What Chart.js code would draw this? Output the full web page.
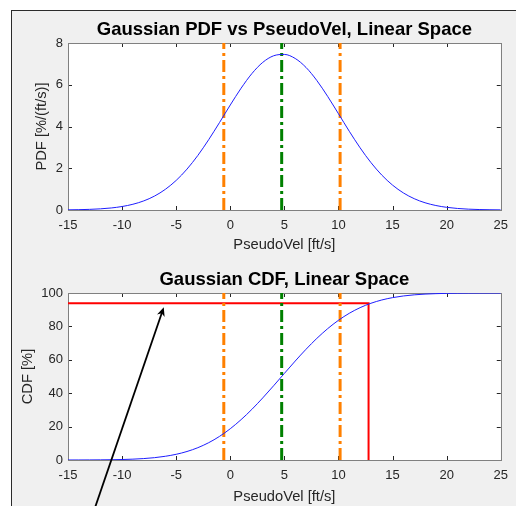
<!DOCTYPE html>
<html>
<head>
<meta charset="utf-8">
<title>Gaussian PDF / CDF</title>
<script src="https://cdn.jsdelivr.net/npm/chart.js@4.4.1/dist/chart.umd.min.js"></script>
<style>
  html, body { margin: 0; padding: 0; background: #fff; overflow: hidden; width: 516px; height: 506px; }
  #frame { position: absolute; left: 11px; top: 10px; width: 505px; height: 496px; background: #f0f0f0;
           border-left: 1px solid #2b2b2b; border-top: 1px solid #2b2b2b; }
  canvas { position: absolute; left: 12px; }
  #pdf-chart { top: 11px; }
  #cdf-chart { top: 260px; }
</style>
</head>
<body>
<div id="frame"></div>
<canvas id="pdf-chart" width="504" height="244"></canvas>
<canvas id="cdf-chart" width="504" height="246"></canvas>
<script>
'use strict';

// pseudo velocity samples [ft/s]
const pseudoVel = [-15, -14, -13, -12, -11, -10, -9, -8, -7, -6, -5, -4, -3, -2, -1, 0, 1, 2, 3, 4, 5,
  6, 7, 8, 9, 10, 11, 12, 13, 14, 15, 16, 17, 18, 19, 20, 21, 22, 23, 24, 25];

// PDF [%/(ft/s)]
const pdfPct = [0.008, 0.016, 0.030, 0.056, 0.098, 0.167, 0.275, 0.436, 0.668, 0.991, 1.418, 1.959, 2.613,
  3.366, 4.187, 5.030, 5.835, 6.537, 7.071, 7.387, 7.452, 7.259, 6.829, 6.203, 5.441, 4.610, 3.770, 2.979,
  2.272, 1.674, 1.191, 0.818, 0.542, 0.347, 0.215, 0.128, 0.074, 0.041, 0.022, 0.012, 0.006];

// CDF [%]
const cdfPct = [0.01, 0.02, 0.05, 0.09, 0.16, 0.29, 0.51, 0.86, 1.40, 2.23, 3.42, 5.09, 7.37, 10.35, 14.12,
  18.73, 24.17, 30.36, 37.18, 44.43, 51.86, 59.25, 66.30, 72.82, 78.64, 83.67, 87.86, 91.23, 93.85, 95.81,
  97.23, 98.23, 98.90, 99.34, 99.61, 99.78, 99.88, 99.94, 99.97, 99.98, 99.99];

// vertical markers: mean and +/- one sigma
const meanVel = 4.75;
const sigmaBounds = [-0.6, 10.15];

// red read-off line on the CDF
const readVel = 12.78;
const readCdf = 93.8;

// annotation arrow, data units of the CDF axes (tail runs off the figure)
const arrowTail = [-12.9, -36];
const arrowHead = [-6.15, 91.5];

const xTicks = [-15, -10, -5, 0, 5, 10, 15, 20, 25];
const pdfTicks = [0, 2, 4, 6, 8];
const cdfTicks = [0, 20, 40, 60, 80, 100];

const FONT = 'Helvetica, Arial, "Liberation Sans", sans-serif';
const TEXT = '#262626';
const BLUE = 'rgb(30, 30, 255)';
const ORANGE = '#ff8000';
const GREEN = '#008000';
const DASH_DOT = [12, 4, 3, 4];

const matlabAxes = {
  id: 'matlabAxes',
  beforeDraw(chart) {
    const { ctx, chartArea: a } = chart;
    ctx.save();
    ctx.fillStyle = '#ffffff';
    ctx.fillRect(a.left, a.top, a.right - a.left, a.bottom - a.top);
    ctx.restore();
  },
  beforeDatasetsDraw(chart) {
    const { ctx, chartArea: a, scales } = chart;
    const len = 4;
    ctx.save();
    ctx.strokeStyle = '#262626';
    ctx.lineWidth = 1;
    ctx.beginPath();
    scales.x.ticks.forEach(t => {
      const px = Math.round(scales.x.getPixelForValue(t.value)) + 0.5;
      ctx.moveTo(px, a.bottom); ctx.lineTo(px, a.bottom - len);
      ctx.moveTo(px, a.top); ctx.lineTo(px, a.top + len);
    });
    scales.y.ticks.forEach(t => {
      const py = Math.round(scales.y.getPixelForValue(t.value)) + 0.5;
      ctx.moveTo(a.left, py); ctx.lineTo(a.left + len, py);
      ctx.moveTo(a.right, py); ctx.lineTo(a.right - len, py);
    });
    ctx.stroke();
    ctx.strokeStyle = '#808080';
    ctx.strokeRect(Math.round(a.left) + 0.5, Math.round(a.top) + 0.5,
      Math.round(a.right - a.left), Math.round(a.bottom - a.top));
    ctx.restore();
  },
};

const annotationArrow = {
  id: 'annotationArrow',
  afterDraw(chart, args, opts) {
    if (!opts.tail) return;
    const { ctx, scales } = chart;
    const x0 = scales.x.getPixelForValue(opts.tail[0]);
    const y0 = scales.y.getPixelForValue(opts.tail[1]);
    const x1 = scales.x.getPixelForValue(opts.head[0]);
    const y1 = scales.y.getPixelForValue(opts.head[1]);
    const ang = Math.atan2(y1 - y0, x1 - x0);
    const headLen = 9;
    const headHalf = 4;
    ctx.save();
    ctx.strokeStyle = '#000';
    ctx.fillStyle = '#000';
    ctx.lineWidth = 1.8;
    ctx.beginPath();
    ctx.moveTo(x0, y0);
    ctx.lineTo(x1 - Math.cos(ang) * 5, y1 - Math.sin(ang) * 5);
    ctx.stroke();
    ctx.translate(x1, y1);
    ctx.rotate(ang);
    ctx.beginPath();
    ctx.moveTo(0, 0);
    ctx.lineTo(-headLen, -headHalf);
    ctx.lineTo(-headLen * 0.7, 0);
    ctx.lineTo(-headLen, headHalf);
    ctx.closePath();
    ctx.fill();
    ctx.restore();
  },
};

function curve(values) {
  return pseudoVel.map((x, i) => ({ x, y: values[i] }));
}

function verticalLine(x, yMax, color) {
  return {
    data: [{ x, y: 0 }, { x, y: yMax }],
    borderColor: color,
    borderWidth: 3,
    borderDash: DASH_DOT,
    pointRadius: 0,
    showLine: true,
  };
}

function buildChart(canvasId, cfg) {
  const yMax = cfg.yTicks[cfg.yTicks.length - 1];
  const datasets = [
    {
      data: curve(cfg.values),
      borderColor: BLUE,
      borderWidth: 1,
      pointRadius: 0,
      showLine: true,
      cubicInterpolationMode: 'monotone',
    },
    verticalLine(sigmaBounds[0], yMax, ORANGE),
    verticalLine(meanVel, yMax, GREEN),
    verticalLine(sigmaBounds[1], yMax, ORANGE),
  ].concat(cfg.extra || []);

  return new Chart(document.getElementById(canvasId), {
    type: 'scatter',
    data: { datasets },
    options: {
      responsive: false,
      animation: false,
      layout: { padding: { left: 0, right: 11, top: 0, bottom: 0 } },
      plugins: {
        legend: { display: false },
        tooltip: { enabled: false },
        title: {
          display: true,
          text: cfg.title,
          fullSize: false,
          color: '#000',
          font: { family: FONT, size: 18.5, weight: 'bold', lineHeight: 1.2 },
          padding: { top: cfg.titleTop, bottom: cfg.titleBottom },
        },
        annotationArrow: cfg.arrow || {},
      },
      scales: {
        x: {
          type: 'linear',
          min: -15,
          max: 25,
          afterBuildTicks: scale => { scale.ticks = xTicks.map(value => ({ value })); },
          afterFit: scale => { scale.height = cfg.xHeight; },
          grid: { display: false, drawTicks: false },
          border: { display: false },
          ticks: { color: TEXT, padding: 8, font: { family: FONT, size: 13 }, maxRotation: 0 },
          title: {
            display: true,
            text: 'PseudoVel [ft/s]',
            color: TEXT,
            font: { family: FONT, size: 14.7 },
            padding: { top: 0, bottom: cfg.xTitleBottom },
          },
        },
        y: {
          type: 'linear',
          min: 0,
          max: yMax,
          afterBuildTicks: scale => { scale.ticks = cfg.yTicks.map(value => ({ value })); },
          afterFit: scale => { scale.width = 56; },
          grid: { display: false, drawTicks: false },
          border: { display: false },
          ticks: { color: TEXT, padding: 5, font: { family: FONT, size: 13 } },
          title: {
            display: true,
            text: cfg.yLabel,
            color: TEXT,
            font: { family: FONT, size: 14.7 },
            padding: { top: cfg.yTitleLeft, bottom: 0 },
          },
        },
      },
    },
    plugins: [matlabAxes, annotationArrow],
  });
}

buildChart('pdf-chart', {
  title: 'Gaussian PDF vs PseudoVel, Linear Space',
  yLabel: 'PDF [%/(ft/s)]',
  values: pdfPct,
  yTicks: pdfTicks,
  titleTop: 8,
  titleBottom: 1.8,
  xHeight: 45,
  xTitleBottom: 1,
  yTitleLeft: 21,
});

buildChart('cdf-chart', {
  title: 'Gaussian CDF, Linear Space',
  yLabel: 'CDF [%]',
  values: cdfPct,
  yTicks: cdfTicks,
  titleTop: 8.6,
  titleBottom: 2.2,
  xHeight: 46,
  xTitleBottom: 0,
  yTitleLeft: 7,
  extra: [{
    data: [{ x: -15, y: readCdf }, { x: readVel, y: readCdf }, { x: readVel, y: 0 }],
    borderColor: '#ff0000',
    borderWidth: 2,
    pointRadius: 0,
    showLine: true,
  }],
  arrow: { tail: arrowTail, head: arrowHead },
});
</script>
</body>
</html>
